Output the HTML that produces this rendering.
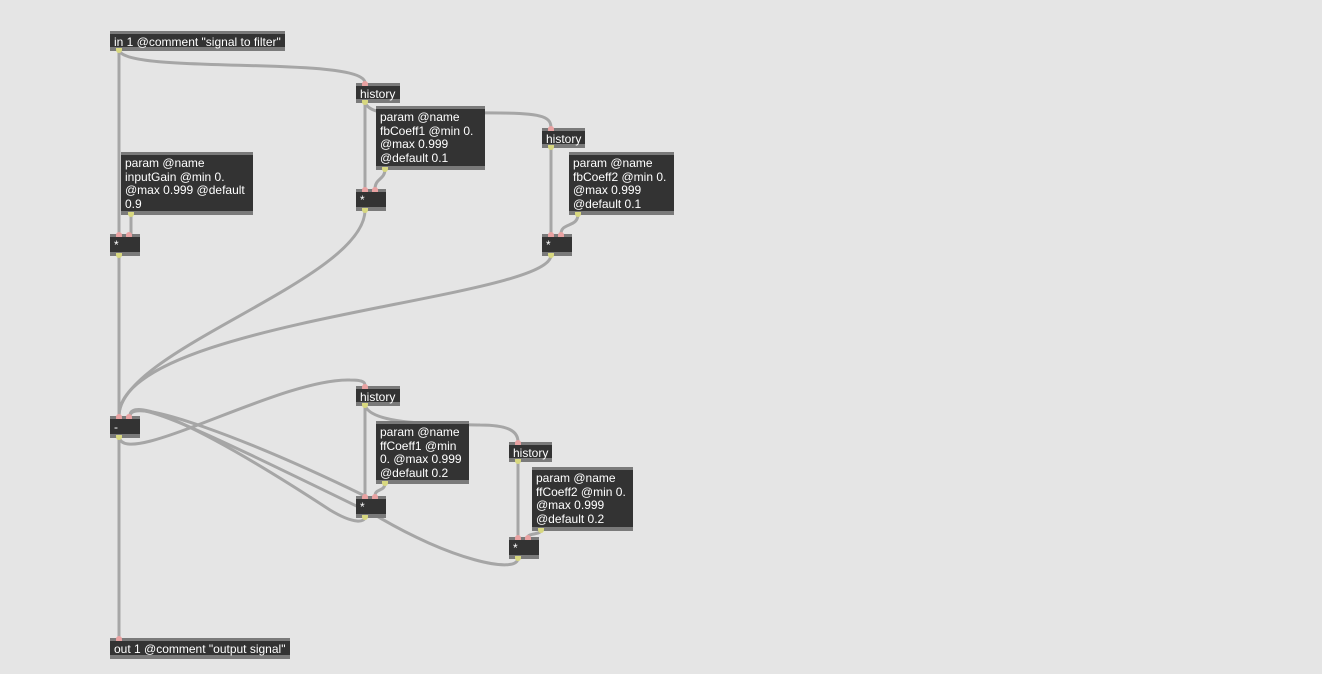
<!DOCTYPE html>
<html><head><style>
body{margin:0;width:1322px;height:674px;background:#e5e5e5;position:relative;overflow:hidden;font-family:"Liberation Sans",Arial,sans-serif;}
.b{position:absolute;background:#333;border-top:3px solid #7a7a7a;border-bottom:4px solid #7a7a7a;box-sizing:border-box;color:#fff;font-size:12px;line-height:13.7px;padding:2px 3px 0 4px;white-space:pre;}
.p{position:absolute;width:6px;height:5px;border-radius:3px 3px 0 0;background:#e9a2a2;}
.o{position:absolute;width:6px;height:5px;border-radius:0 0 3px 3px;background:#d8d880;}
svg{position:absolute;left:0;top:0}
</style></head><body>
<svg width="1322" height="674" fill="none" stroke="#a6a6a6" stroke-width="3" stroke-linecap="round">
<path d="M119 50 L119 234"/>
<path d="M119 50 C125 75 365 55 365 83"/>
<path d="M365 102 L365 189"/>
<path d="M365 102 C370 120 420 112 500 113 C545 113 551 118 551 128"/>
<path d="M385 169 C385 180 375 178 375 189"/>
<path d="M131 214 L131 234"/>
<path d="M365 210 C365 280 119 350 119 416"/>
<path d="M551 147 L551 234"/>
<path d="M578 214 C578 228 561 222 561 234"/>
<path d="M551 255 C551 300 119 320 119 416"/>
<path d="M119 255 L119 416"/>
<path d="M119 437 L119 638"/>
<path d="M119 437 C125 470 280 378 350 380 C365 380 365 383 365 386"/>
<path d="M130 416 C130 395 250 440 365 496"/>
<path d="M130 416 C130 395 200 425 330 510 C355 525 365 522 365 517"/>
<path d="M130 416 C130 395 200 430 375 515 C450 560 518 575 518 558"/>
<path d="M365 405 L365 496"/>
<path d="M365 405 C370 425 440 424 480 425 C510 425 518 432 518 442"/>
<path d="M385 483 C385 492 375 488 375 496"/>
<path d="M518 461 L518 537"/>
<path d="M541 530 C541 535 528 533 528 537"/>
</svg>

<div class="b" style="left:110px;top:31px;width:175px;height:20px">in 1 @comment "signal to filter"</div>
<div class="b" style="left:356px;top:83px;width:44px;height:20px">history</div>
<div class="b" style="left:376px;top:106px;width:109px;height:64px">param @name
fbCoeff1 @min 0.
@max 0.999
@default 0.1</div>
<div class="b" style="left:356px;top:189px;width:30px;height:22px">*</div>
<div class="b" style="left:542px;top:128px;width:43px;height:20px">history</div>
<div class="b" style="left:569px;top:152px;width:105px;height:63px">param @name
fbCoeff2 @min 0.
@max 0.999
@default 0.1</div>
<div class="b" style="left:542px;top:234px;width:30px;height:22px">*</div>
<div class="b" style="left:121px;top:152px;width:132px;height:63px">param @name
inputGain @min 0.
@max 0.999 @default
0.9</div>
<div class="b" style="left:110px;top:234px;width:30px;height:22px">*</div>
<div class="b" style="left:110px;top:416px;width:30px;height:22px">-</div>
<div class="b" style="left:356px;top:386px;width:44px;height:20px">history</div>
<div class="b" style="left:376px;top:421px;width:93px;height:63px">param @name
ffCoeff1 @min
0. @max 0.999
@default 0.2</div>
<div class="b" style="left:356px;top:496px;width:30px;height:22px">*</div>
<div class="b" style="left:509px;top:442px;width:43px;height:20px">history</div>
<div class="b" style="left:532px;top:467px;width:101px;height:64px">param @name
ffCoeff2 @min 0.
@max 0.999
@default 0.2</div>
<div class="b" style="left:509px;top:537px;width:30px;height:22px">*</div>
<div class="b" style="left:110px;top:638px;width:180px;height:21px">out 1 @comment "output signal"</div>

<div class="o" style="left:116px;top:48px"></div>
<div class="p" style="left:362px;top:81px"></div><div class="o" style="left:362px;top:100px"></div>
<div class="o" style="left:382px;top:167px"></div>
<div class="p" style="left:362px;top:187px"></div><div class="p" style="left:372px;top:187px"></div><div class="o" style="left:362px;top:208px"></div>
<div class="p" style="left:548px;top:126px"></div><div class="o" style="left:548px;top:145px"></div>
<div class="o" style="left:575px;top:212px"></div>
<div class="p" style="left:548px;top:232px"></div><div class="p" style="left:558px;top:232px"></div><div class="o" style="left:548px;top:253px"></div>
<div class="o" style="left:128px;top:212px"></div>
<div class="p" style="left:116px;top:232px"></div><div class="p" style="left:126px;top:232px"></div><div class="o" style="left:116px;top:253px"></div>
<div class="p" style="left:116px;top:414px"></div><div class="p" style="left:126px;top:414px"></div><div class="o" style="left:116px;top:435px"></div>
<div class="p" style="left:362px;top:384px"></div><div class="o" style="left:362px;top:403px"></div>
<div class="o" style="left:382px;top:481px"></div>
<div class="p" style="left:362px;top:494px"></div><div class="p" style="left:372px;top:494px"></div><div class="o" style="left:362px;top:515px"></div>
<div class="p" style="left:515px;top:440px"></div><div class="o" style="left:515px;top:459px"></div>
<div class="o" style="left:538px;top:528px"></div>
<div class="p" style="left:515px;top:535px"></div><div class="p" style="left:525px;top:535px"></div><div class="o" style="left:515px;top:556px"></div>
<div class="p" style="left:116px;top:636px"></div>
</body></html>
